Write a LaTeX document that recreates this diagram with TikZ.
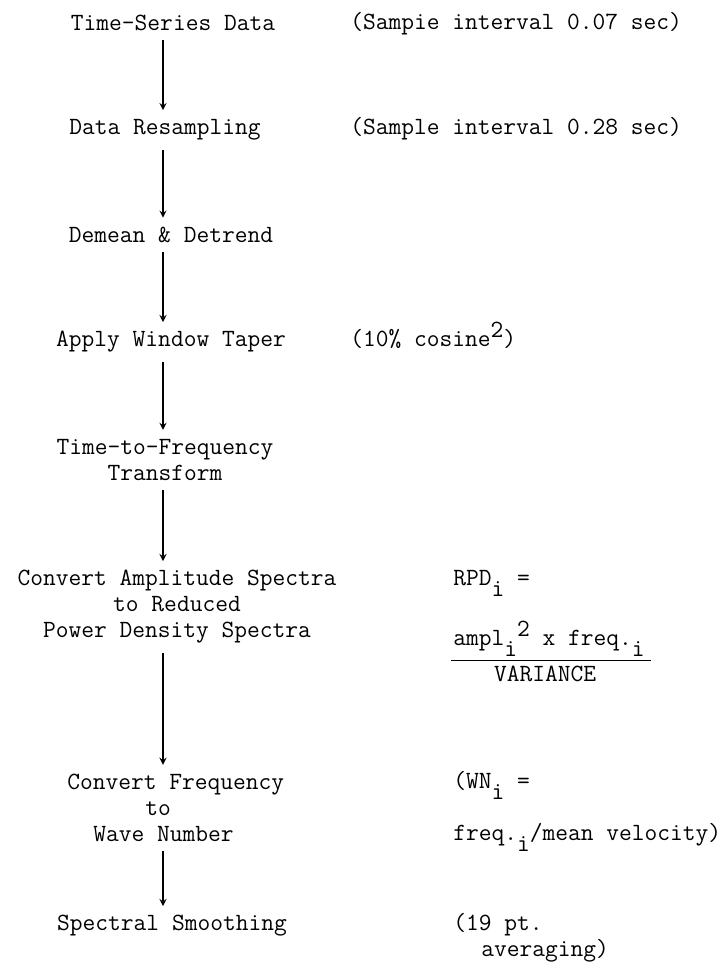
\documentclass[tikz,border=0pt]{standalone}
\usepackage{fontspec}
\usepackage{tikz}
\usetikzlibrary{arrows}
\newcommand\tsub[1]{\raisebox{-5.5pt}{#1}}
\newcommand\tsup[1]{\raisebox{4.5pt}{#1}}

\begin{document}
\begin{tikzpicture}[>=stealth, x=0.5pt, y=-0.5pt]
                \tikzstyle{every node} = [font=\ttfamily\addfontfeatures{FakeBold=0.5}\fontsize{12.38pt}{13pt}\selectfont]
                \tikzstyle{format} = [inner xsep=0pt, inner ysep=4.5pt, align=center]
                \tikzstyle{remark} = [inner sep=0pt, anchor=base west]
                \tikzstyle{flow} = [->, line width=0.6pt]
                \useasboundingbox (0,0) rectangle (728,964);
                \coordinate (ax) at (163,0);

                % Processing steps
                \node[format] (series) at (173,23) {Time-Series Data};
                \node[format] (resample) at (165,130) {Data Resampling};
                \node[format] (detrend) at (171,235) {Demean \& Detrend};
                \node[format] (taper) at (171,342) {Apply Window Taper};
                \node[format] (transform) at (165,460) {Time-to-Frequency\\Transform};
                \node[format] (power) at (177,607) {Convert Amplitude Spectra\\to Reduced\\Power Density Spectra};
                \node[format, align=left, anchor=west] (wavenum) at (67,808) {Convert Frequency\\\hspace*{39pt}to\\\hspace*{13pt}Wave Number};
                \node[format] (smooth) at (172,926) {Spectral Smoothing};

                % Remarks
                \node[remark] (rseries) at (350,29) {(Sampie interval 0.07 sec)};
                \node[remark] (rresample) at (350,134) {(Sample interval 0.28 sec)};
                \node[remark] (rtaper) at (350,346) {(10\% cosine\tsup{2})};
                \node[remark] (rpd) at (453,585) {RPD\tsub{i} =};
                \node[remark] (ampl) at (453,645) {ampl\tsub{i}\tsup{2} x freq.\tsub{i}};
                \node[remark, anchor=base] (variance) at (545,681) {VARIANCE};
                \node[remark] (wn) at (453,788) {(WN\tsub{i} =};
                \node[remark] (velocity) at (453,840) {freq.\tsub{i}/mean velocity)};
                \node[remark] (npts) at (453,930) {(19 pt.};
                \node[remark] (averaging) at (481,956) {averaging)};

                \draw[line width=0.8pt] ([xshift=-1pt, yshift=-2pt]ampl.south west) -- ([xshift=3pt, yshift=-2pt]ampl.south east);

                % Flow arrows
                \path[flow]
                (series.south -| ax) edge (resample.north -| ax)
                (resample.south -| ax) edge (detrend.north -| ax)
                (detrend.south -| ax) edge (taper.north -| ax)
                (taper.south -| ax) edge (transform.north -| ax)
                (transform.south -| ax) edge (power.north -| ax)
                (power.south -| ax) edge (wavenum.north -| ax)
                (wavenum.south -| ax) edge (smooth.north -| ax)
                ;
\end{tikzpicture}
\end{document}
